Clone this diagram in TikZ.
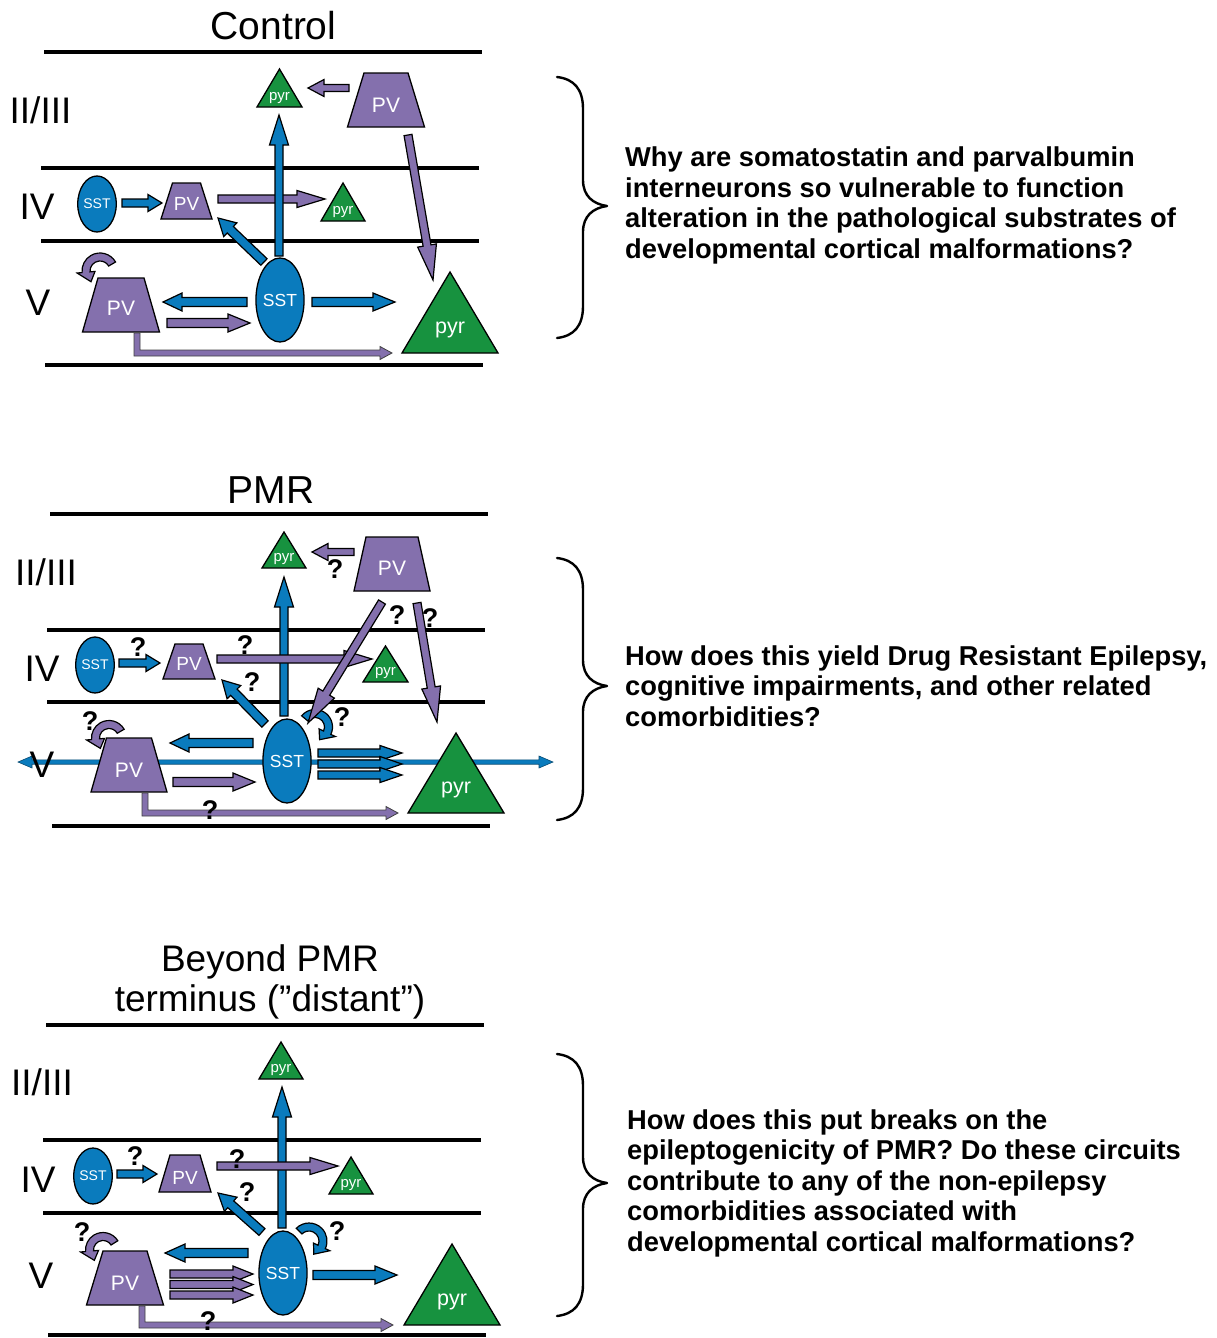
\documentclass[tikz,border=0pt]{standalone}
\usepackage{fontspec}
\setmainfont{Liberation Sans}
\usetikzlibrary{calc,shapes.geometric}
\definecolor{sstblue}{RGB}{10,123,189}
\definecolor{pvpurple}{RGB}{132,112,173}
\definecolor{pyrgreen}{RGB}{23,146,63}
\tikzset{
 layer/.style={line width=3.5pt},
 bblk/.style={fill=sstblue, draw=black, line width=1.2pt, line join=miter},
 pblk/.style={fill=pvpurple, draw=black, line width=1.2pt, line join=miter},
 lthin/.style={fill=pvpurple, draw=black!75, line width=0.8pt},
 bthin/.style={fill=sstblue, draw=sstblue!60!black, line width=0.6pt},
 pvshape/.style={fill=pvpurple, draw=black, line width=1.3pt, line join=miter},
 pyrshape/.style={fill=pyrgreen, draw=black, line width=1.3pt, line join=miter},
 wtxt/.style={text=white, inner sep=0pt},
 title/.style={font=\fontsize{39}{42}\selectfont, inner sep=0pt, anchor=base},
 titleb/.style={font=\fontsize{37}{40}\selectfont, inner sep=0pt, anchor=base},
 lab/.style={font=\fontsize{37}{40}\selectfont, inner sep=0pt, anchor=base},
 qm/.style={font=\bfseries\fontsize{27}{27}\selectfont, inner sep=0pt},
 qtxt/.style={font=\bfseries\fontsize{27.3}{30}\selectfont, inner sep=0pt, anchor=base west},
 bracestroke/.style={line width=2.4pt, line cap=round, line join=round},
}
% block arrow: style, name, from, to, half shaft, half head, head length
\newcommand\barr[7]{%
 \coordinate (#2s) at (#3); \coordinate (#2e) at (#4);
 \path ($(#2e)!#7!(#2s)$) coordinate (#2c);
 \draw[#1] ($(#2s)!#5!-90:(#2e)$) -- ($(#2c)!#5!90:(#2s)$) -- ($(#2c)!#6!90:(#2s)$) -- (#2e) -- ($(#2c)!#6!-90:(#2s)$) -- ($(#2c)!#5!-90:(#2s)$) -- ($(#2s)!#5!90:(#2e)$) -- cycle;}
% double headed block arrow
\newcommand\dbarr[7]{%
 \coordinate (#2s) at (#3); \coordinate (#2e) at (#4);
 \path ($(#2s)!#7!(#2e)$) coordinate (#2p) ($(#2e)!#7!(#2s)$) coordinate (#2q);
 \draw[#1] (#2s) -- ($(#2p)!#6!-90:(#2e)$) -- ($(#2p)!#5!-90:(#2e)$) -- ($(#2q)!#5!-90:(#2e)$) -- ($(#2q)!#6!-90:(#2e)$) -- (#2e) -- ($(#2q)!#6!90:(#2e)$) -- ($(#2q)!#5!90:(#2e)$) -- ($(#2p)!#5!90:(#2e)$) -- ($(#2p)!#6!90:(#2e)$) -- cycle;}
% L shaped thin arrow: name, x0, ytop, ycorner, xtip
\newcommand\Larr[5]{%
 \coordinate (#1s) at (#2,#3); \coordinate (#1e) at (#5,#4);
 \draw[lthin] ({#2-3},#3) -- ({#2-3},{#4+3}) -- ({#5-12},{#4+3}) -- ({#5-12},{#4+6.5}) -- (#1e) -- ({#5-12},{#4-6.5}) -- ({#5-12},{#4-3}) -- ({#2+3},{#4-3}) -- ({#2+3},#3) -- cycle;}
% curved self arrow: style, cx, cy, r, a, b, w, H, d
\newcommand\loopar[9]{%
 \draw[#1] ([shift={(#2,#3)}]#5:{#4+#7}) arc[start angle=#5, end angle=#6, radius={#4+#7}] -- ([shift={(#2,#3)}]#6:{#4+#8}) -- ([shift={(#2,#3)}]{#6+#9}:#4) -- ([shift={(#2,#3)}]#6:{#4-#8}) -- ([shift={(#2,#3)}]#6:{#4-#7}) arc[start angle=#6, end angle=#5, radius={#4-#7}] -- cycle;}
% PV trapezoid: name, cx, ytop, ybot, top half, bottom half, font size, baseline
\newcommand\pvn[8]{%
 \draw[pvshape] ({#2-#5},#3) -- ({#2+#5},#3) -- ({#2+#6},#4) -- ({#2-#6},#4) -- cycle;
 \node[wtxt, font=\fontsize{#7}{#7}\selectfont, anchor=base] (#1) at (#2,#8) {PV};}
% pyr triangle: name, cx, base y, half width, height, font size, baseline
\newcommand\pyrn[7]{%
 \draw[pyrshape] ({#2-#4},#3) -- ({#2+#4},#3) -- (#2,{#3-#5}) -- cycle;
 \node[wtxt, font=\fontsize{#6}{#6}\selectfont, anchor=base] (#1) at (#2,#7) {pyr};}
% SST ellipse: name, cx, cy, rx, ry, font size
\newcommand\sstn[6]{%
 \node[ellipse, draw=black, line width=1.3pt, fill=sstblue, inner sep=0pt, minimum width={#4*2pt}, minimum height={#5*2pt}, text=white, font=\fontsize{#6}{#6}\selectfont] (#1) at (#2,#3) {SST};}
% brace: top, bottom, tip
\newcommand\bigbrace[3]{%
 \draw[bracestroke] (557,#1) .. controls (574,{#1+2}) and (583,{#1+12}) .. (583,{#1+32}) -- (583,{#3-26}) .. controls (583,{#3-10}) and (593,{#3-2}) .. (607,#3) .. controls (593,{#3+2}) and (583,{#3+10}) .. (583,{#3+26}) -- (583,{#2-32}) .. controls (583,{#2-12}) and (574,{#2-2}) .. (557,#2);}
\begin{document}
\begin{tikzpicture}[x=1pt,y=-1pt]
\useasboundingbox (0,0) rectangle (1217,1338);
% ================= CONTROL =================
\node[title] (tC) at (273.5,40) {Control};
\draw[layer] (44,52) -- (482,52);
\draw[layer] (41,168) -- (479,168);
\draw[layer] (41,241) -- (479,241);
\draw[layer] (45,365) -- (483,365);
\node[lab] (lC1) at (40.5,123) {II/III};
\node[lab] (lC2) at (37,219) {IV};
\node[lab] (lC3) at (38,315) {V};
\pyrn{pyrC1}{279.5}{107}{22.5}{38}{15}{100}
\pvn{pvC1}{386}{73}{127}{22}{38.5}{21}{112}
\sstn{sstC1}{97}{204}{16}{28}{14}
\pvn{pvC2}{186.5}{183}{219}{14}{25.5}{19}{210}
\pyrn{pyrC2}{343}{221}{22}{38}{15}{214}
\pvn{pvC3}{121}{278}{332}{23}{38.5}{21}{315}
\sstn{sstC2}{280}{300}{24}{42}{17.5}
\pyrn{pyrC3}{450}{353}{48}{81}{21.5}{333}
\barr{pblk}{a1}{349,88}{308,88}{3.5pt}{8.5pt}{16pt}
\barr{pblk}{a2}{408,135}{433,280}{4pt}{9.5pt}{35pt}
\barr{pblk}{a5}{218,199}{325,199}{4pt}{8.5pt}{28pt}
\barr{bblk}{a3}{279,256}{279,115}{4pt}{9.5pt}{30pt}
\barr{bblk}{a4}{122,203}{162,203}{4pt}{8.5pt}{14pt}
\barr{bblk}{a6}{264,262}{218,218}{4.5pt}{9.5pt}{17pt}
\barr{bblk}{a7}{247,302}{163,302}{4.5pt}{9pt}{19pt}
\barr{pblk}{a8}{167,323}{250,323}{4.5pt}{9pt}{22pt}
\barr{bblk}{a9}{312,302}{395,302}{4.5pt}{9pt}{22pt}
\Larr{a10}{137}{333}{353}{392}
\loopar{pblk}{100}{271}{14}{-30}{-185}{4}{9}{-45}
\bigbrace{77}{338}{206}
\node[qtxt] (qC1) at (625,166.5) {Why are somatostatin and parvalbumin};
\node[qtxt] (qC2) at (625,197) {interneurons so vulnerable to function};
\node[qtxt] (qC3) at (625,227.5) {alteration in the pathological substrates of};
\node[qtxt] (qC4) at (625,258) {developmental cortical malformations?};
% ================= PMR =================
\node[title] (tP) at (271,503) {PMR};
\draw[layer] (50,514) -- (488,514);
\draw[layer] (47,630) -- (485,630);
\draw[layer] (47,702) -- (485,702);
\draw[layer] (52,826) -- (490,826);
\dbarr{bthin}{b10}{18,762}{553,762}{2.2pt}{6pt}{14pt}
\node[lab] (lP1) at (46,585) {II/III};
\node[lab] (lP2) at (42,681) {IV};
\node[lab] (lP3) at (42,777) {V};
\pyrn{pyrP1}{284}{568}{22}{36}{15}{561}
\pvn{pvP1}{392}{537}{591}{26}{38}{21}{575}
\sstn{sstP1}{95}{665}{16}{28}{14}
\pvn{pvP2}{189}{644}{679}{14}{26}{19}{670}
\pyrn{pyrP2}{385.5}{682}{22.5}{36}{15}{675}
\pvn{pvP3}{129}{738}{792}{22.5}{38}{21}{777}
\sstn{sstP2}{287}{761}{24}{42}{17.5}
\pyrn{pyrP3}{456}{813}{48}{80}{21.5}{793}
\barr{pblk}{b1}{354,552}{312,552}{3.5pt}{8.5pt}{16pt}
\barr{bblk}{b4}{284,716}{284,577}{4pt}{9.5pt}{30pt}
\barr{pblk}{b6}{217,659}{372,659}{4pt}{8.5pt}{28pt}
\barr{bblk}{b5}{119,663}{160,663}{4pt}{8.5pt}{14pt}
\barr{bblk}{b7}{265,724}{222,680}{4.5pt}{9.5pt}{17pt}
\barr{bblk}{b8}{253,743}{170,743}{4.5pt}{9pt}{19pt}
\barr{pblk}{b9}{173,782}{255,782}{4.5pt}{9pt}{22pt}
\barr{bblk}{b11a}{318,753}{402,753}{4pt}{7.5pt}{22pt}
\barr{bblk}{b11b}{318,764}{402,764}{4pt}{7.5pt}{22pt}
\barr{bblk}{b11c}{318,775}{402,775}{4pt}{7.5pt}{22pt}
\loopar{bblk}{315}{727}{13.5}{-140}{25}{4}{9}{45}
\loopar{pblk}{109}{738}{13.5}{-30}{-185}{4}{9}{-45}
\barr{pblk}{b2}{382,602}{308,723}{4pt}{9.5pt}{35pt}
\barr{pblk}{b3}{417,603}{437,722}{4pt}{9.5pt}{35pt}
\Larr{b13}{145}{793}{813}{398}
\node[qm] (qP1) at (335,569) {?};
\node[qm] (qP2) at (397,615) {?};
\node[qm] (qP3) at (430,618) {?};
\node[qm] (qP4) at (138,647) {?};
\node[qm] (qP5) at (245,645) {?};
\node[qm] (qP6) at (252,682) {?};
\node[qm] (qP7) at (90,721) {?};
\node[qm] (qP8) at (342,717) {?};
\node[qm] (qP9) at (210,810) {?};
\bigbrace{558}{820}{686}
\node[qtxt] (tP1) at (625,665) {How does this yield Drug Resistant Epilepsy,};
\node[qtxt] (tP2) at (625,695.5) {cognitive impairments, and other related};
\node[qtxt] (tP3) at (625,726) {comorbidities?};
% ================= BEYOND PMR =================
\node[titleb] (tB1) at (270,971) {Beyond PMR};
\node[titleb] (tB2) at (270,1011) {terminus (”distant”)};
\draw[layer] (46,1025) -- (484,1025);
\draw[layer] (43,1140) -- (481,1140);
\draw[layer] (43,1213) -- (481,1213);
\draw[layer] (48,1335) -- (486,1335);
\node[lab] (lB1) at (42,1095) {II/III};
\node[lab] (lB2) at (38,1192) {IV};
\node[lab] (lB3) at (41,1288) {V};
\pyrn{pyrB1}{281}{1079}{22}{37}{15}{1072}
\sstn{sstB1}{93}{1176}{16}{28}{14}
\pvn{pvB1}{185}{1155}{1192}{15}{26}{19}{1184}
\pyrn{pyrB2}{351}{1194}{22}{37}{15}{1187}
\pvn{pvB2}{125}{1251}{1305}{22}{38.5}{21}{1290}
\sstn{sstB2}{283}{1273}{24}{42}{17.5}
\pyrn{pyrB3}{452}{1325}{48}{81}{21.5}{1305}
\barr{bblk}{c1}{282,1228}{282,1087}{4pt}{9.5pt}{30pt}
\barr{bblk}{c2}{117,1174}{157,1174}{4pt}{8.5pt}{14pt}
\barr{pblk}{c3}{217,1166}{338,1166}{4pt}{8.5pt}{28pt}
\barr{bblk}{c4}{262,1232}{218,1193}{4.5pt}{9.5pt}{17pt}
\barr{bblk}{c5}{248,1253}{165,1253}{4.5pt}{9pt}{20pt}
\barr{pblk}{c6a}{170,1274}{253,1274}{4pt}{8pt}{20pt}
\barr{pblk}{c6b}{170,1284.5}{253,1284.5}{4pt}{8pt}{20pt}
\barr{pblk}{c6c}{170,1295}{253,1295}{4pt}{8pt}{20pt}
\barr{bblk}{c7}{313,1275}{397,1275}{4.5pt}{9pt}{22pt}
\loopar{bblk}{309}{1241}{14}{-135}{25}{4}{9}{45}
\loopar{pblk}{103}{1250}{13.5}{-32}{-185}{4}{9}{-45}
\Larr{c10}{142}{1306}{1325}{393}
\node[qm] (qB1) at (135,1156) {?};
\node[qm] (qB2) at (237,1159) {?};
\node[qm] (qB3) at (247,1192) {?};
\node[qm] (qB4) at (82,1232) {?};
\node[qm] (qB5) at (337,1231) {?};
\node[qm] (qB6) at (208,1321) {?};
\bigbrace{1054}{1316}{1183}
\node[qtxt] (tB3) at (627,1129) {How does this put breaks on the};
\node[qtxt] (tB4) at (627,1159.5) {epileptogenicity of PMR? Do these circuits};
\node[qtxt] (tB5) at (627,1190) {contribute to any of the non-epilepsy};
\node[qtxt] (tB6) at (627,1220.5) {comorbidities associated with};
\node[qtxt] (tB7) at (627,1251) {developmental cortical malformations?};
\end{tikzpicture}
\end{document}
